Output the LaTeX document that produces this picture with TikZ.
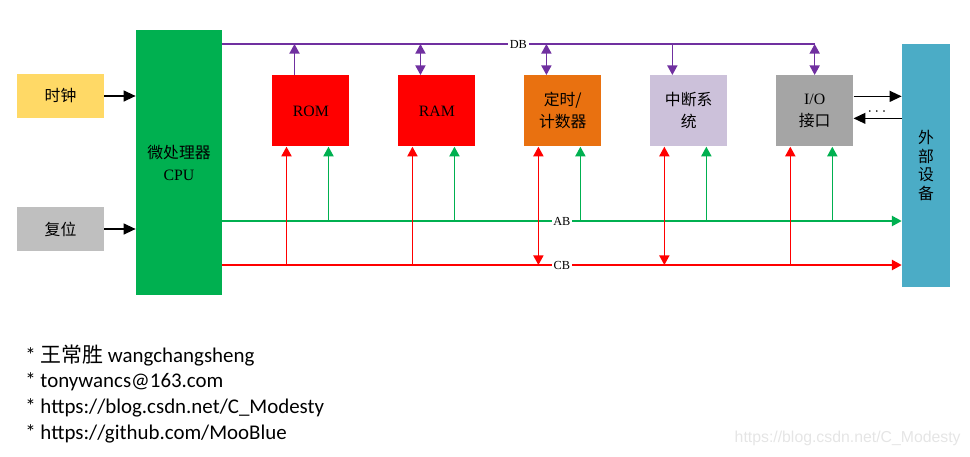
\documentclass[tikz,border=0pt]{standalone}
\usepackage{fontspec}
\setmainfont{Liberation Serif}
\newfontfamily\cjk{Noto Sans CJK SC}
\newfontfamily\calib{Carlito}
\newfontfamily\wmfont{Liberation Sans}
\usetikzlibrary{positioning,arrows.meta,calc}
\definecolor{cpugreen}{HTML}{00B050}
\definecolor{busred}{HTML}{FF0000}
\definecolor{dbpurple}{HTML}{7030A0}
\definecolor{clkyellow}{HTML}{FFD966}
\definecolor{rstgray}{HTML}{BFBFBF}
\definecolor{timorange}{HTML}{E97110}
\definecolor{intlilac}{HTML}{CCC1DA}
\definecolor{iogray}{HTML}{A5A5A5}
\definecolor{extblue}{HTML}{4BACC6}

\begin{document}
\begin{tikzpicture}[node distance=0.965cm,
  box/.style={inner sep=0pt, align=center, minimum width=1.54cm, minimum height=1.42cm,
    font=\fontsize{9}{12.5}\selectfont},
  buslbl/.style={fill=white, text=black, inner sep=1pt, font=\scriptsize},
  karr/.style={line width=0.8pt, -{Triangle[length=6.8pt,width=6.2pt]}},
  dbarr/.style={draw=dbpurple, line width=0.8pt, -{Triangle[length=5.5pt,width=5.8pt]}},
  dbboth/.style={draw=dbpurple, line width=0.8pt, {Triangle[length=5.5pt,width=5.8pt]}-{Triangle[length=5.5pt,width=5.8pt]}},
  garr/.style={draw=cpugreen, line width=0.8pt, -{Triangle[length=5.5pt,width=5.8pt]}},
  rarr/.style={draw=busred, line width=0.8pt, -{Triangle[length=5.5pt,width=5.8pt]}},
  rboth/.style={draw=busred, line width=0.8pt, {Triangle[length=5.5pt,width=5.8pt]}-{Triangle[length=5.5pt,width=5.8pt]}}]
\useasboundingbox (0,0) rectangle (19.4,-9.12);

% left side
\node[box, fill=clkyellow, minimum width=1.74cm, minimum height=0.88cm] (clk) at (1.21,-1.92) {\cjk 时钟};
\node[box, fill=rstgray, minimum width=1.74cm, minimum height=0.88cm] (rst) at (1.21,-4.58) {\cjk 复位};
\node[box, fill=cpugreen, minimum width=1.72cm, minimum height=5.3cm] (cpu) at (3.58,-3.25) {{\cjk 微处理器}\\CPU};

% units on the buses
\node[box, fill=busred, anchor=north west] (rom) at (5.44,-1.5) {ROM};
\node[box, fill=busred, right=of rom] (ram) {RAM};
\node[box, fill=timorange, right=of ram] (tim) {{\cjk 定时/}\\{\cjk 计数器}};
\node[box, fill=intlilac, right=of tim] (int) {{\cjk 中断系}\\{\cjk 统}};
\node[box, fill=iogray, right=of int] (io) {I/O\\{\cjk 接口}};
\node[box, fill=extblue, minimum width=0.96cm, minimum height=4.86cm,
  font=\cjk\fontsize{9}{10.5}\selectfont] (ext) at (18.52,-3.31) {外\\部\\设\\备};

\draw[karr] (clk) -- (clk -| cpu.west);
\draw[karr] (rst) -- (rst -| cpu.west);

% buses
\coordinate (db0) at (4.44,-0.88);
\coordinate (db1) at (io.north |- db0);
\coordinate (ab0) at (4.44,-4.42);
\coordinate (cb0) at (4.44,-5.30);
\draw[dbpurple, line width=0.8pt] (db0) -- node[buslbl]{DB} (db1);
\draw[garr] (ab0) -- node[buslbl]{AB} (ext.west |- ab0);
\draw[rarr] (cb0) -- node[buslbl]{CB} (ext.west |- cb0);

\foreach \b in {rom,ram,tim,int,io}{
  \coordinate (\b R) at ($(\b.south west)+(0.29,0)$);
  \coordinate (\b G) at ($(\b.south west)+(1.13,0)$);
  \coordinate (\b D) at ($(\b.north west)+(0.45,0)$);
  \draw[garr] (\b G |- ab0) -- (\b G);
}

\draw[dbarr] (romD) -- (romD |- db0);
\draw[dbboth] (ramD |- db0) -- (ramD);
\draw[dbboth] (timD |- db0) -- (timD);
\draw[dbarr] (intD |- db0) -- (intD);
\draw[dbboth] (db1) -- (io.north);

\draw[rarr] (romR |- cb0) -- (romR);
\draw[rarr] (ramR |- cb0) -- (ramR);
\draw[rboth] (timR) -- (timR |- cb0);
\draw[rboth] (intR) -- (intR |- cb0);
\draw[rarr] (ioR |- cb0) -- (ioR);

% io <-> external device
\coordinate (ioO) at ($(io.east)+(0,0.29)$);
\coordinate (ioI) at ($(io.east)+(0,-0.15)$);
\draw[karr] (ioO) -- (ioO -| ext.west);
\draw[karr] (ioI -| ext.west) -- (ioI);
\node[font=\small] (dots) at (17.54,-2.24) {$\cdots$};

% notes
\node[anchor=base west, align=left, inner sep=0pt, font=\calib\fontsize{11.9}{14.6}\selectfont] (notes) at (0.5,-8.78)
  {* {\cjk 王常胜} wangchangsheng\\* tonywancs@163.com\\* https://blog.csdn.net/C\_Modesty\\* https://github.com/MooBlue};
\node[anchor=east, inner sep=0pt, text=black!10, font=\wmfont\fontsize{9}{11}\selectfont] (wm) at (19.22,-8.76) {https://blog.csdn.net/C\_Modesty};
\end{tikzpicture}
\end{document}
